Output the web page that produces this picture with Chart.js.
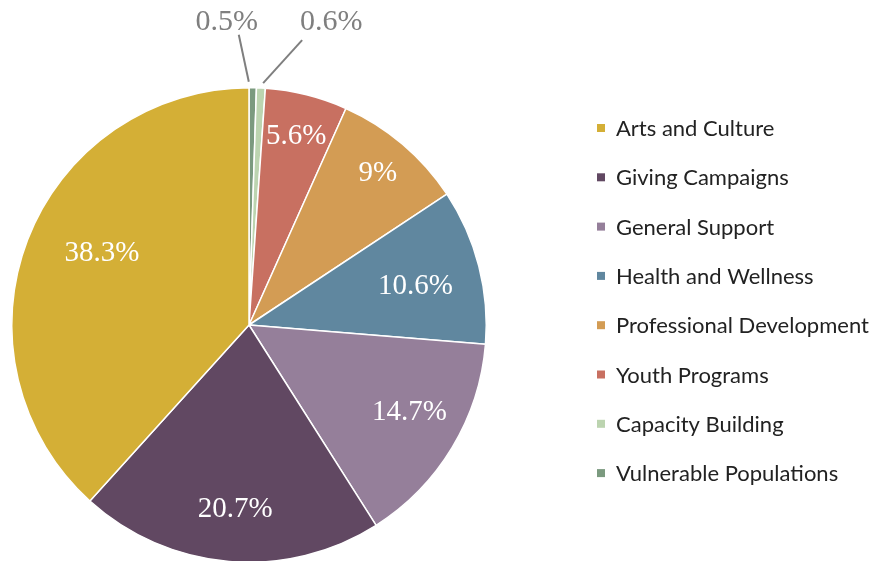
<!DOCTYPE html>
<html>
<head>
<meta charset="utf-8">
<script src="https://cdn.jsdelivr.net/npm/chart.js@4/dist/chart.umd.min.js"></script>
<style>
html,body{margin:0;padding:0;overflow:hidden;background:#fff;}
#wrap{position:relative;width:886px;height:600px;}
</style>
</head>
<body>
<div id="wrap"><canvas id="c" width="886" height="600"></canvas></div>
<script>
// Data (clockwise from 12 o'clock)
const categories = ["Vulnerable Populations","Capacity Building","Youth Programs","Professional Development","Health and Wellness","General Support","Giving Campaigns","Arts and Culture"];
const shares = [0.5, 0.6, 5.6, 9, 10.6, 14.7, 20.7, 38.3];
const valueLabels = ["0.5%","0.6%","5.6%","9%","10.6%","14.7%","20.7%","38.3%"];

// Styling
const colors = ["#7b9a7f","#bcd4b0","#c87061","#d39c54","#60879f","#957f9a","#614862","#d4af36"];
const labelRadiusFrac = [null, null, 0.82, 0.84, 0.72, 0.77, 0.78, 0.69];
const labelAngleShiftDeg = [0, 0, 0, 0, 1.5, -2.6, -0.6, 5];
const callouts = {
  0: {sx:-4, sy:-2, lx:-14, ly:-49, tx:-26, ty:-62},
  1: {sx:2, sy:-1, lx:41, ly:-44, tx:70, ty:-62}
};

const labelPlugin = {
  id:'sliceLabels',
  afterDatasetsDraw(chart){
    const ctx = chart.ctx;
    const meta = chart.getDatasetMeta(0);
    ctx.save();
    ctx.textAlign='center';
    ctx.textBaseline='middle';
    ctx.font = '29px "Liberation Serif", "Times New Roman", serif';
    meta.data.forEach((arc,i)=>{
      const p = arc.getProps(['x','y','startAngle','endAngle','outerRadius'], true);
      const mid = (p.startAngle+p.endAngle)/2;
      if (labelRadiusFrac[i] !== null) {
        const a = mid + labelAngleShiftDeg[i]*Math.PI/180;
        const d = p.outerRadius*labelRadiusFrac[i];
        ctx.fillStyle='#ffffff';
        ctx.fillText(valueLabels[i], p.x+Math.cos(a)*d, p.y+Math.sin(a)*d);
      } else {
        const c = callouts[i];
        const ex = p.x+Math.cos(mid)*(p.outerRadius+4);
        const ey = p.y+Math.sin(mid)*(p.outerRadius+4);
        ctx.strokeStyle='#7f7f7f';
        ctx.lineWidth=2;
        ctx.beginPath();
        ctx.moveTo(ex+c.sx,ey+c.sy);
        ctx.lineTo(ex+c.lx, ey+c.ly);
        ctx.stroke();
        ctx.fillStyle='#7f7f7f';
        ctx.font = '30px "Liberation Serif", "Times New Roman", serif';
        ctx.fillText(valueLabels[i], ex+c.tx, ey+c.ty);
        ctx.font = '29px "Liberation Serif", "Times New Roman", serif';
      }
    });
    ctx.restore();
  }
};

const legendPlugin = {
  id:'sideLegend',
  afterDraw(chart){
    const ctx = chart.ctx;
    ctx.save();
    ctx.textAlign='left';
    ctx.textBaseline='middle';
    ctx.font = '22px Lato, "Open Sans", sans-serif';
    const order = categories.map((_,i)=>i).reverse();
    const x0 = 597, y0 = 128, step = 49.3;
    order.forEach((idx,k)=>{
      const y = y0 + k*step;
      ctx.fillStyle = colors[idx];
      ctx.fillRect(x0, y-4, 8, 8);
      ctx.fillStyle = '#222222';
      ctx.fillText(categories[idx], 616, y+1);
    });
    ctx.restore();
  }
};

new Chart(document.getElementById('c'), {
  type:'pie',
  data:{
    labels: categories,
    datasets:[{
      data: shares,
      backgroundColor: colors,
      borderColor:'#ffffff',
      borderWidth:1.5,
      hoverOffset:0,
      offset:0
    }]
  },
  options:{
    responsive:false,
    animation:false,
    events:[],
    layout:{padding:{left:11, top:87, right:399, bottom:37}},
    plugins:{legend:{display:false}, tooltip:{enabled:false}}
  },
  plugins:[labelPlugin, legendPlugin]
});
</script>
</body>
</html>
